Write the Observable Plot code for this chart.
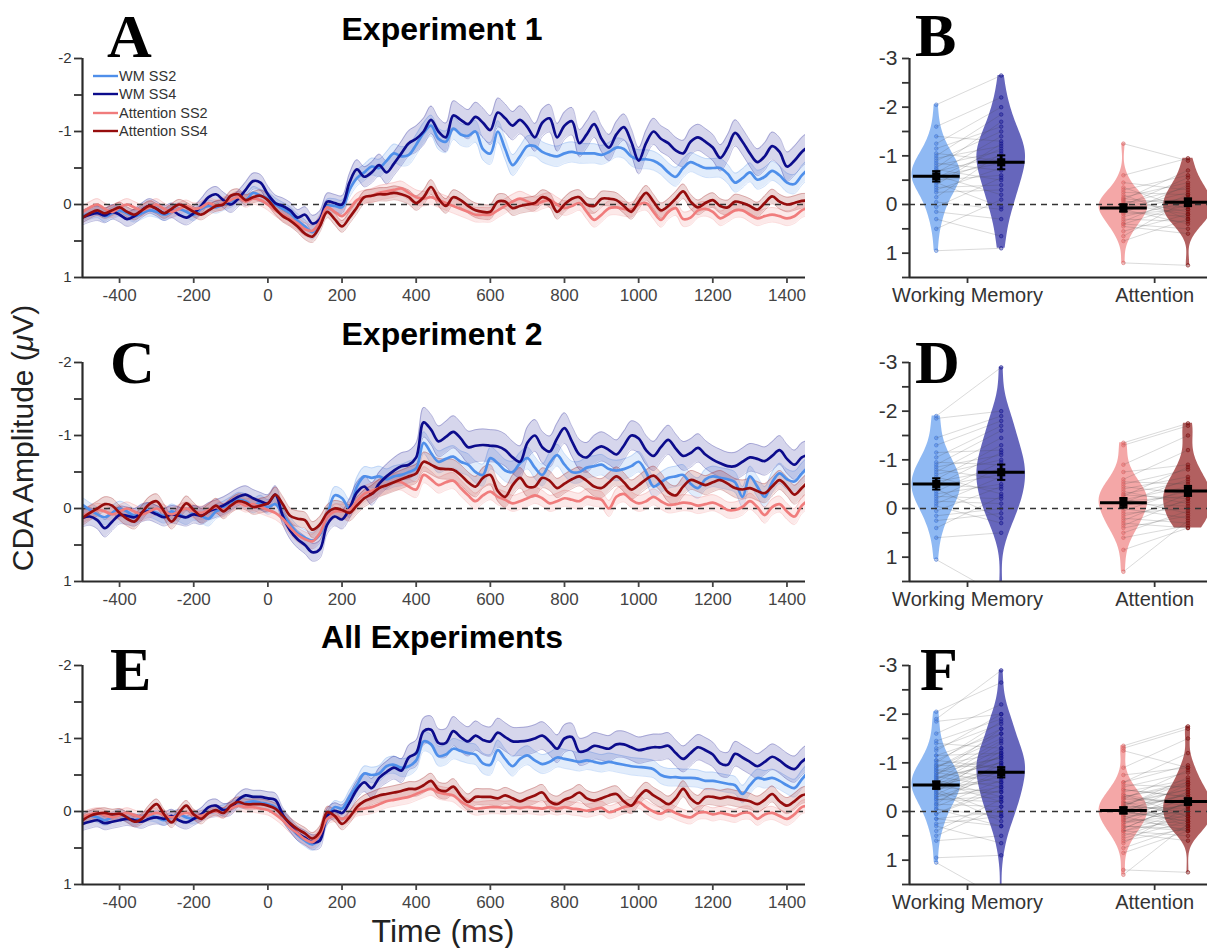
<!DOCTYPE html>
<html><head><meta charset="utf-8">
<script src="https://cdn.jsdelivr.net/npm/d3@7"></script>
<script src="https://cdn.jsdelivr.net/npm/@observablehq/plot@0.6"></script>
<style>
html,body{margin:0;padding:0;background:#fff;overflow:hidden}
#root{position:relative;width:1207px;height:948px;overflow:hidden;font-family:"Liberation Sans",Arial,Helvetica,sans-serif}
#root svg{position:absolute}
</style></head>
<body><div id="root"></div>
<script>
// ---------------- time grid (ms) ----------------
const times = d3.range(-500, 1461, 20);
const semKnots = d3.range(-500, 1501, 100);
const xTicks = [-400,-200,0,200,400,600,800,1000,1200,1400];
const yTicksLeft = [-2,-1.5,-1,-0.5,0,0.5,1];
const yTicksRight = [-3,-2.5,-2,-1.5,-1,-0.5,0,0.5,1,1.5];
const taskLabels = ["Working Memory","Attention"];
const taskTicks = [1,2];
const seriesNames = ["WM SS2","WM SS4","Attention SS2","Attention SS4"];
const panelTitles = ["Experiment 1","Experiment 2","All Experiments"];

// ---------------- Experiment 1 waveforms ----------------
const exp1_wm2 = [0.16,0.12,0.10,0.16,0.12,0.08,0.12,0.16,0.12,0.08,
0.10,0.14,0.10,0.06,0.10,0.14,0.06,0.02,0.04,0.00,
-0.04,-0.10,-0.06,-0.16,-0.12,-0.08,0.00,0.06,0.12,0.22,
0.30,0.38,0.24,0.02,0.02,0.04,-0.20,-0.36,-0.44,-0.52,
-0.50,-0.60,-0.70,-0.66,-0.68,-0.82,-0.98,-1.08,-0.90,-0.86,
-1.04,-0.96,-0.94,-1.00,-0.76,-0.70,-1.00,-0.76,-0.54,-0.66,
-0.80,-0.80,-0.72,-0.68,-0.66,-0.70,-0.72,-0.70,-0.70,-0.70,
-0.68,-0.72,-0.78,-0.76,-0.66,-0.62,-0.62,-0.60,-0.54,-0.44,
-0.38,-0.50,-0.58,-0.54,-0.50,-0.50,-0.50,-0.42,-0.30,-0.36,
-0.44,-0.34,-0.38,-0.46,-0.40,-0.30,-0.28,-0.40,-0.50];
const exp1_wm4 = [0.18,0.14,0.12,0.15,0.10,0.14,0.20,0.16,0.08,0.02,
0.06,0.12,0.08,0.14,0.18,0.12,0.02,-0.10,-0.14,-0.06,
0.00,-0.08,-0.20,-0.32,-0.30,-0.14,-0.02,0.02,0.08,0.18,
0.14,0.26,0.20,-0.04,-0.02,0.00,-0.30,-0.48,-0.38,-0.44,
-0.54,-0.44,-0.56,-0.70,-0.84,-0.90,-1.00,-1.16,-1.00,-0.92,
-1.22,-1.16,-1.10,-1.20,-1.12,-1.02,-1.26,-1.18,-1.08,-1.16,
-1.06,-0.92,-1.12,-1.18,-0.92,-1.08,-1.14,-0.84,-0.96,-1.10,
-0.90,-0.78,-0.96,-1.06,-0.86,-0.60,-0.84,-1.00,-0.90,-0.84,
-0.74,-0.70,-0.86,-0.92,-0.86,-0.78,-0.64,-0.78,-0.98,-0.86,
-0.70,-0.58,-0.66,-0.80,-0.72,-0.52,-0.60,-0.72,-0.80];
const exp1_att2 = [0.10,0.04,0.00,0.06,0.10,0.04,0.00,0.04,0.08,0.04,
0.00,0.06,0.10,0.06,0.02,0.06,0.04,-0.02,0.02,-0.02,
-0.06,-0.10,-0.04,-0.08,-0.06,0.00,0.08,0.14,0.20,0.26,
0.34,0.36,0.24,0.04,0.10,0.16,0.06,-0.06,-0.10,-0.12,
-0.16,-0.18,-0.20,-0.22,-0.16,-0.10,-0.08,-0.10,-0.06,-0.02,
0.02,0.06,0.10,0.14,0.14,0.14,0.08,0.02,-0.04,-0.08,
-0.04,0.00,-0.04,-0.06,0.00,0.05,0.02,-0.02,0.10,0.21,
0.14,0.05,0.04,0.06,0.07,0.00,-0.02,0.10,0.21,0.10,
0.05,0.20,0.18,0.08,0.06,0.10,0.19,0.14,0.08,0.08,
0.14,0.19,0.16,0.14,0.16,0.19,0.16,0.08,0.04];
const exp1_att4 = [0.18,0.12,0.08,0.12,0.08,0.04,0.10,0.14,0.08,0.02,
0.06,0.12,0.06,0.00,0.04,0.10,0.14,0.08,0.02,0.00,
-0.12,-0.14,-0.06,-0.10,-0.12,-0.06,0.06,0.16,0.22,0.30,
0.40,0.44,0.30,0.10,0.20,0.30,0.18,0.04,-0.10,-0.12,
-0.14,-0.14,-0.16,-0.14,-0.10,-0.02,-0.10,-0.24,-0.08,0.02,
-0.10,-0.06,0.02,0.08,0.10,0.10,-0.04,-0.04,0.05,0.02,
0.00,-0.02,-0.10,-0.06,0.10,0.00,-0.08,-0.10,0.00,0.02,
-0.08,-0.08,-0.06,0.02,0.10,-0.04,-0.16,-0.04,0.08,0.02,
-0.08,-0.18,-0.04,0.04,-0.02,-0.06,0.02,0.04,-0.04,-0.02,
0.02,0.07,-0.02,-0.11,-0.04,0.00,-0.02,-0.05,-0.05];
const exp1_wm2_sem = [0.08,0.08,0.08,0.08,0.08,0.09,0.09,0.10,0.12,0.14,0.15,0.15,0.14,0.14,0.13,0.13,0.13,0.13,0.13,0.13,0.14];
const exp1_wm4_sem = [0.10,0.10,0.10,0.10,0.11,0.11,0.11,0.12,0.15,0.18,0.20,0.20,0.19,0.19,0.18,0.18,0.18,0.18,0.18,0.20,0.20];
const exp1_att2_sem = [0.08,0.08,0.08,0.08,0.08,0.08,0.09,0.09,0.10,0.10,0.10,0.10,0.10,0.10,0.10,0.10,0.10,0.10,0.10,0.10,0.10];
const exp1_att4_sem = [0.07,0.07,0.07,0.07,0.07,0.08,0.08,0.08,0.09,0.10,0.10,0.10,0.10,0.10,0.10,0.10,0.10,0.10,0.10,0.10,0.10];

// ---------------- Experiment 2 waveforms ----------------
const exp2_wm2 = [-0.05,0.02,0.08,0.12,0.06,0.00,0.04,0.10,0.06,0.02,
0.06,0.10,0.04,0.08,0.12,0.06,0.10,0.14,0.04,0.00,
-0.06,-0.12,-0.10,-0.04,-0.08,-0.02,-0.06,0.08,0.22,0.34,
0.40,0.44,0.36,0.10,-0.18,-0.14,0.00,-0.30,-0.44,-0.42,
-0.44,-0.40,-0.44,-0.46,-0.50,-0.55,-0.90,-0.76,-0.64,-0.68,
-0.71,-0.64,-0.60,-0.50,-0.46,-0.69,-0.62,-0.52,-0.50,-0.62,
-0.69,-0.56,-0.46,-0.62,-0.73,-0.60,-0.50,-0.50,-0.56,-0.58,
-0.60,-0.54,-0.52,-0.54,-0.58,-0.64,-0.50,-0.30,-0.36,-0.42,
-0.44,-0.46,-0.34,-0.28,-0.40,-0.44,-0.42,-0.40,-0.36,-0.16,
-0.44,-0.30,-0.16,-0.36,-0.48,-0.40,-0.37,-0.48,-0.58];
const exp2_wm4 = [0.13,0.11,0.16,0.27,0.18,0.09,0.10,0.12,0.06,0.04,
0.08,0.12,0.08,0.10,0.12,0.08,0.10,0.04,0.00,-0.04,
-0.10,-0.16,-0.19,-0.14,-0.10,-0.07,-0.19,0.10,0.30,0.42,
0.50,0.60,0.56,0.22,0.11,0.15,0.00,-0.22,-0.30,-0.20,
-0.34,-0.44,-0.52,-0.58,-0.60,-0.70,-1.18,-1.08,-0.92,-0.98,
-1.05,-0.96,-0.84,-0.86,-0.87,-0.86,-0.85,-0.80,-0.70,-0.64,
-0.90,-1.00,-0.84,-0.78,-0.96,-1.10,-0.92,-0.74,-0.70,-0.80,
-0.85,-0.80,-0.74,-0.86,-1.00,-0.96,-0.80,-0.72,-0.84,-0.94,
-0.82,-0.72,-0.76,-0.83,-0.74,-0.67,-0.62,-0.58,-0.58,-0.64,
-0.70,-0.68,-0.65,-0.72,-0.80,-0.68,-0.60,-0.70,-0.74];
const exp2_att2 = [0.10,0.06,0.02,0.04,0.08,0.04,0.00,0.04,0.08,0.04,
0.00,0.04,0.08,0.04,0.00,0.04,0.06,0.02,-0.02,0.02,
-0.04,-0.08,-0.04,-0.06,-0.02,0.02,0.06,0.14,0.26,0.36,
0.42,0.45,0.34,0.12,0.04,0.04,0.02,-0.10,-0.20,-0.24,
-0.28,-0.32,-0.36,-0.36,-0.30,-0.26,-0.46,-0.40,-0.32,-0.36,
-0.38,-0.28,-0.18,-0.10,-0.18,-0.23,-0.16,-0.12,-0.07,-0.10,
-0.14,-0.18,-0.14,-0.07,-0.10,-0.14,-0.12,-0.10,-0.16,-0.14,
-0.12,0.00,-0.16,-0.20,-0.12,-0.07,-0.10,-0.16,-0.10,-0.05,
-0.06,-0.08,-0.07,-0.04,-0.06,-0.08,-0.04,0.02,0.02,-0.02,
-0.10,-0.02,0.09,-0.02,-0.06,0.04,0.11,-0.04,-0.12];
const exp2_att4 = [0.13,0.06,0.00,-0.06,-0.04,0.06,0.14,0.18,0.06,-0.06,
-0.10,0.04,0.18,0.06,-0.07,0.02,0.10,0.04,-0.04,0.04,
-0.04,-0.10,-0.08,-0.02,-0.04,-0.07,-0.19,-0.06,0.10,0.14,
0.16,0.29,0.22,0.06,0.00,0.02,0.06,-0.04,-0.14,-0.20,
-0.28,-0.32,-0.36,-0.40,-0.44,-0.48,-0.64,-0.60,-0.55,-0.54,
-0.53,-0.46,-0.36,-0.30,-0.42,-0.46,-0.24,-0.16,-0.32,-0.42,
-0.30,-0.30,-0.42,-0.38,-0.28,-0.34,-0.40,-0.44,-0.38,-0.30,
-0.28,-0.36,-0.44,-0.36,-0.26,-0.32,-0.40,-0.45,-0.36,-0.22,
-0.18,-0.30,-0.39,-0.36,-0.32,-0.36,-0.39,-0.34,-0.28,-0.26,
-0.28,-0.24,-0.21,-0.30,-0.39,-0.30,-0.19,-0.28,-0.38];
const exp2_wm2_sem = [0.10,0.10,0.10,0.10,0.10,0.10,0.11,0.12,0.14,0.15,0.15,0.15,0.15,0.15,0.14,0.14,0.14,0.14,0.14,0.14,0.15];
const exp2_wm4_sem = [0.12,0.12,0.12,0.12,0.12,0.12,0.12,0.13,0.16,0.20,0.22,0.22,0.22,0.21,0.20,0.20,0.20,0.19,0.19,0.20,0.20];
const exp2_att2_sem = [0.09,0.09,0.09,0.09,0.09,0.09,0.10,0.10,0.11,0.11,0.11,0.11,0.11,0.11,0.11,0.11,0.11,0.11,0.11,0.11,0.11];
const exp2_att4_sem = [0.10,0.10,0.10,0.10,0.10,0.10,0.11,0.11,0.12,0.13,0.14,0.14,0.14,0.13,0.13,0.13,0.13,0.13,0.13,0.13,0.13];

// ---------------- All experiments waveforms ----------------
const all_wm2 = [0.10,0.06,0.08,0.12,0.08,0.04,0.08,0.12,0.08,0.06,
0.08,0.12,0.08,0.04,0.08,0.10,0.06,0.02,0.00,-0.02,
-0.06,-0.10,-0.12,-0.14,-0.12,-0.10,-0.06,0.06,0.20,0.32,
0.40,0.45,0.36,0.10,-0.06,-0.04,-0.20,-0.36,-0.52,-0.50,
-0.52,-0.62,-0.64,-0.60,-0.62,-0.70,-0.96,-0.92,-0.76,-0.78,
-0.86,-0.83,-0.80,-0.78,-0.66,-0.64,-0.84,-0.72,-0.62,-0.72,
-0.77,-0.70,-0.65,-0.68,-0.74,-0.72,-0.70,-0.68,-0.70,-0.68,
-0.66,-0.68,-0.66,-0.64,-0.62,-0.61,-0.60,-0.58,-0.50,-0.47,
-0.47,-0.46,-0.46,-0.45,-0.42,-0.42,-0.40,-0.38,-0.36,-0.24,
-0.36,-0.46,-0.44,-0.46,-0.42,-0.36,-0.32,-0.44,-0.56];
const all_wm4 = [0.17,0.14,0.12,0.16,0.14,0.12,0.10,0.12,0.14,0.10,
0.08,0.10,0.06,0.12,0.15,0.10,0.04,-0.06,-0.08,-0.02,
-0.04,-0.16,-0.22,-0.20,-0.20,-0.18,-0.16,0.04,0.18,0.30,
0.36,0.42,0.40,0.06,-0.01,0.02,-0.12,-0.30,-0.40,-0.32,
-0.46,-0.54,-0.60,-0.56,-0.74,-0.80,-1.10,-1.12,-0.94,-0.94,
-1.10,-1.02,-0.96,-1.04,-0.98,-0.96,-1.08,-1.02,-0.96,-0.96,
-0.97,-1.00,-1.04,-0.96,-0.86,-1.00,-1.02,-0.82,-0.84,-0.90,
-0.88,-0.86,-0.92,-0.92,-0.88,-0.84,-0.86,-0.88,-0.88,-0.90,
-0.80,-0.72,-0.80,-0.88,-0.84,-0.78,-0.66,-0.64,-0.79,-0.74,
-0.68,-0.62,-0.68,-0.75,-0.70,-0.62,-0.58,-0.68,-0.76];
const all_att2 = [0.08,0.04,0.02,0.05,0.08,0.05,0.02,0.05,0.08,0.05,
0.02,0.05,0.08,0.05,0.02,0.05,0.06,0.02,0.00,0.02,
-0.04,-0.08,-0.06,-0.06,-0.04,-0.02,0.04,0.12,0.22,0.30,
0.38,0.42,0.32,0.10,0.06,0.10,0.06,-0.02,-0.04,-0.06,
-0.10,-0.14,-0.16,-0.18,-0.20,-0.24,-0.28,-0.31,-0.26,-0.24,
-0.22,-0.14,-0.08,-0.04,-0.05,-0.06,-0.06,-0.05,-0.06,-0.05,
-0.06,-0.05,-0.04,-0.06,-0.04,-0.06,-0.04,-0.03,-0.01,-0.03,
-0.05,0.01,-0.02,-0.06,-0.08,-0.13,-0.06,0.00,0.03,-0.02,
0.02,0.06,0.08,0.02,0.01,0.04,0.02,0.04,0.06,0.02,
0.02,0.10,0.04,0.02,0.06,0.10,0.04,-0.06,-0.08];
const all_att4 = [0.12,0.06,0.03,0.02,0.04,0.03,0.08,0.14,0.10,-0.02,
-0.10,0.04,0.15,0.02,-0.08,0.04,0.10,0.02,-0.02,0.02,
-0.08,-0.13,-0.10,-0.10,-0.10,-0.08,-0.04,0.06,0.16,0.24,
0.30,0.37,0.28,0.01,0.06,0.17,0.08,-0.06,-0.14,-0.18,
-0.22,-0.24,-0.26,-0.28,-0.31,-0.31,-0.36,-0.42,-0.30,-0.28,
-0.34,-0.22,-0.13,-0.20,-0.20,-0.20,-0.18,-0.22,-0.18,-0.14,
-0.18,-0.22,-0.26,-0.14,-0.10,-0.16,-0.20,-0.26,-0.18,-0.15,
-0.18,-0.22,-0.24,-0.14,-0.08,-0.20,-0.29,-0.22,-0.16,-0.10,
-0.18,-0.31,-0.18,-0.11,-0.20,-0.20,-0.18,-0.20,-0.18,-0.16,
-0.14,-0.10,-0.16,-0.24,-0.14,-0.08,-0.14,-0.22,-0.24];
const all_wm2_sem = [0.07,0.07,0.07,0.07,0.07,0.08,0.08,0.09,0.11,0.13,0.14,0.14,0.13,0.13,0.12,0.12,0.12,0.12,0.12,0.12,0.13];
const all_wm4_sem = [0.09,0.09,0.09,0.09,0.09,0.09,0.10,0.11,0.14,0.18,0.20,0.20,0.19,0.19,0.18,0.18,0.18,0.17,0.17,0.18,0.18];
const all_att2_sem = [0.07,0.07,0.07,0.07,0.07,0.07,0.08,0.08,0.09,0.09,0.09,0.09,0.09,0.09,0.09,0.09,0.09,0.09,0.09,0.09,0.09];
const all_att4_sem = [0.07,0.07,0.07,0.07,0.07,0.07,0.08,0.08,0.09,0.10,0.11,0.11,0.11,0.11,0.11,0.11,0.11,0.11,0.11,0.11,0.11];

// ---------------- per-subject mean amplitudes ----------------
const s1_wm2 = [-2.05,-1.6,-1.4,-1.25,-1.15,-1.05,-1.0,-0.95,-0.9,-0.85,-0.8,-0.75,-0.72,-0.68,-0.65,-0.6,-0.58,-0.55,-0.5,-0.48,-0.45,-0.4,-0.35,-0.3,-0.25,-0.15,-0.05,0.05,0.15,0.3,0.5,0.95];
const s1_wm4 = [-2.65,-2.2,-1.3,-2.0,-1.6,-0.9,-1.85,-1.2,-1.5,-0.7,-1.1,-1.7,-0.5,-1.0,-1.4,-0.2,-0.85,-1.15,-0.6,-0.95,0.05,-1.25,-0.4,-0.75,-0.3,-1.05,0.1,-0.55,0.3,0.65,-0.1,0.9];
const s1_att2 = [-1.25,-0.6,-0.45,-0.35,-0.3,-0.25,-0.2,-0.15,-0.12,-0.1,-0.08,-0.05,-0.02,0.0,0.02,0.05,0.08,0.1,0.12,0.15,0.18,0.2,0.25,0.3,0.35,0.4,0.4,0.45,0.55,0.65,0.75,1.2];
const s1_att4 = [-0.9,-0.95,-0.3,0.1,-0.6,-0.2,0.3,-0.45,0.0,-0.7,0.15,-0.1,-0.35,0.2,-0.55,0.05,-0.25,0.4,-0.15,0.25,-0.4,0.1,-0.05,0.35,-0.2,0.5,0.0,0.6,0.2,-0.1,0.3,1.25];
const s2_wm2 = [-1.9,-1.85,-1.45,-1.3,-1.15,-1.05,-0.95,-0.9,-0.85,-0.8,-0.75,-0.7,-0.65,-0.6,-0.55,-0.5,-0.48,-0.45,-0.4,-0.35,-0.3,-0.25,-0.2,-0.15,-0.1,-0.05,0.05,0.15,0.25,0.4,0.6,1.05];
const s2_wm4 = [-2.9,-2.0,-1.9,-1.8,-1.2,-1.7,-0.9,-1.6,-1.1,-0.6,-1.45,-1.0,-0.3,-1.3,-0.8,-0.4,-1.15,-0.7,0.2,-0.95,-0.5,-0.2,-0.85,-0.1,-0.65,0.3,-0.45,0.0,0.1,-0.25,0.5,1.8];
const s2_att2 = [-1.35,-1.3,-0.9,-0.75,-0.6,-0.55,-0.5,-0.45,-0.4,-0.35,-0.3,-0.28,-0.25,-0.2,-0.18,-0.15,-0.12,-0.1,-0.05,0.0,0.05,0.1,0.15,0.2,0.25,0.3,0.35,0.4,0.5,0.6,0.85,1.3];
const s2_att4 = [-1.75,-1.7,-1.5,-0.9,-1.2,-0.5,-0.8,-0.3,-0.65,-0.1,-0.55,-0.2,-0.85,0.1,-0.45,-0.25,-0.6,-0.05,-0.35,0.2,-0.4,0.0,-0.15,0.3,-0.3,0.4,-0.2,0.15,0.05,0.35,0.4,0.25];

// ---------------- styling ----------------
const keys = ["wm2","wm4","att2","att4"];
const lineColor = {wm2:"#4f8fea", wm4:"#0c0c8c", att2:"#f07c7c", att4:"#960d0d"};
const violinFill = {wm2:"#5a98ee", wm4:"#1d1d9c", att2:"#ef7d7d", att4:"#8e1414"};
const dotColor = {wm2:"#3f74d6", wm4:"#12128e", att2:"#dc6262", att4:"#7a0a0a"};
const violinPos = {wm2:1-0.167, wm4:1+0.18, att2:2-0.167, att4:2+0.178};
const FONT = "'Liberation Sans', Arial, Helvetica, sans-serif";
const intFmt = d => Number.isInteger(d) ? String(d) : "";

const root = document.getElementById("root");
function place(svg, left, top){ svg.style.left = left+"px"; svg.style.top = top+"px"; root.appendChild(svg); }

function leftPanel(mean, sem, top){
  const marks = [];
  const rowsBy = {};
  for (const k of keys){
    const s = d3.scaleLinear().domain(semKnots).range(sem[k]);
    rowsBy[k] = times.map((t,i)=>({t, v:mean[k][i], lo:mean[k][i]-s(t), hi:mean[k][i]+s(t)}));
  }
  for (const k of keys){
    const d = rowsBy[k];
    marks.push(Plot.areaY(d,{x:"t",y1:"lo",y2:"hi",fill:lineColor[k],fillOpacity:0.17,curve:"catmull-rom",clip:true}));
    marks.push(Plot.line(d,{x:"t",y:"lo",stroke:lineColor[k],strokeOpacity:0.25,strokeWidth:1,curve:"catmull-rom",clip:true}));
    marks.push(Plot.line(d,{x:"t",y:"hi",stroke:lineColor[k],strokeOpacity:0.25,strokeWidth:1,curve:"catmull-rom",clip:true}));
  }
  marks.push(Plot.ruleY([0],{stroke:"#333",strokeDasharray:"6,5",strokeWidth:1.4}));
  for (const k of keys){
    marks.push(Plot.line(rowsBy[k],{x:"t",y:"v",stroke:lineColor[k],strokeWidth:2.7,curve:"catmull-rom",clip:true}));
  }
  marks.push(Plot.ruleX([-500],{stroke:"#2a2a2a",strokeWidth:2.2}));
  marks.push(Plot.ruleY([1],{stroke:"#2a2a2a",strokeWidth:2.2}));
  marks.push(Plot.axisY({ticks:yTicksLeft,tickFormat:intFmt,tickSize:8,tickPadding:3,fontSize:15,label:null,color:"#333",strokeWidth:1.8}));
  marks.push(Plot.axisX({ticks:xTicks,tickFormat:d=>String(d),tickSize:6,tickPadding:5,fontSize:17,label:null,color:"#444",strokeWidth:1.8}));
  const svg = Plot.plot({
    width:820, height:264, marginTop:10, marginBottom:35, marginLeft:82, marginRight:15,
    x:{domain:[-500,1450]}, y:{domain:[1,-2]},
    style:{fontFamily:FONT, background:"none", overflow:"visible"},
    marks
  });
  place(svg, 0, top);
}

function violinPts(vals, pos){
  const n = vals.length, sd = d3.deviation(vals), bw = 0.9*sd*Math.pow(n,-0.2);
  const lo = d3.min(vals), hi = d3.max(vals);
  const pts = d3.range(81).map(i=>{const y = lo+(hi-lo)*i/80; return {y, d:d3.sum(vals,v=>Math.exp(-0.5*((y-v)/bw)**2))};});
  const mx = d3.max(pts,p=>p.d);
  return pts.map(p=>({y:p.y, x1:pos-p.d/mx*0.13, x2:pos+p.d/mx*0.13}));
}

function rightPanel(subj, top){
  const marks = [];
  for (const k of keys){
    marks.push(Plot.areaX(violinPts(subj[k], violinPos[k]),{y:"y",x1:"x1",x2:"x2",fill:violinFill[k],fillOpacity:0.68,clip:true}));
  }
  for (const k of keys){
    marks.push(Plot.dot(subj[k],{x:()=>violinPos[k],y:d=>d,r:1.8,fill:dotColor[k],fillOpacity:0.35,stroke:dotColor[k],strokeOpacity:0.8,strokeWidth:0.7,clip:true}));
  }
  const pairs = [["wm2","wm4"],["att2","att4"]];
  for (const [a,b] of pairs){
    const links = subj[a].map((v,i)=>({v1:v, v2:subj[b][i]}));
    marks.push(Plot.link(links,{x1:()=>violinPos[a],x2:()=>violinPos[b],y1:"v1",y2:"v2",stroke:"#444",strokeOpacity:0.2,strokeWidth:1,clip:true}));
  }
  marks.push(Plot.ruleY([0],{stroke:"#333",strokeDasharray:"6,5",strokeWidth:1.4}));
  const stats = keys.map(k=>{const m=d3.mean(subj[k]); const se=d3.deviation(subj[k])/Math.sqrt(subj[k].length); return {k, x:violinPos[k], m, lo:m-se, hi:m+se};});
  marks.push(Plot.link(stats,{x1:d=>d.x-0.125,x2:d=>d.x+0.125,y1:"m",y2:"m",stroke:"#000",strokeWidth:3}));
  marks.push(Plot.link(stats,{x1:"x",x2:"x",y1:"lo",y2:"hi",stroke:"#000",strokeWidth:2.5}));
  marks.push(Plot.link(stats,{x1:d=>d.x-0.022,x2:d=>d.x+0.022,y1:"lo",y2:"lo",stroke:"#000",strokeWidth:2}));
  marks.push(Plot.link(stats,{x1:d=>d.x-0.022,x2:d=>d.x+0.022,y1:"hi",y2:"hi",stroke:"#000",strokeWidth:2}));
  marks.push(Plot.dot(stats,{x:"x",y:"m",symbol:"square",r:4.6,fill:"#000"}));
  marks.push(Plot.ruleX([0.69],{stroke:"#2a2a2a",strokeWidth:2.2}));
  marks.push(Plot.ruleY([1.5],{stroke:"#2a2a2a",strokeWidth:2.2}));
  marks.push(Plot.axisY({ticks:yTicksRight,tickFormat:intFmt,tickSize:7,tickPadding:5,fontSize:21,label:null,color:"#333",strokeWidth:1.8}));
  marks.push(Plot.axisX({ticks:taskTicks,tickFormat:d=>taskLabels[d-1],tickSize:6,tickPadding:4,fontSize:20,label:null,color:"#333",strokeWidth:1.8}));
  const svg = Plot.plot({
    width:369, height:264, marginTop:10, marginBottom:35, marginLeft:49, marginRight:0,
    x:{domain:[0.69,2.4]}, y:{domain:[1.5,-3]},
    style:{fontFamily:FONT, background:"none", overflow:"visible"},
    marks
  });
  place(svg, 860, top);
}

const panelTops = [48, 352, 655];
leftPanel({wm2:exp1_wm2,wm4:exp1_wm4,att2:exp1_att2,att4:exp1_att4},{wm2:exp1_wm2_sem,wm4:exp1_wm4_sem,att2:exp1_att2_sem,att4:exp1_att4_sem}, panelTops[0]);
leftPanel({wm2:exp2_wm2,wm4:exp2_wm4,att2:exp2_att2,att4:exp2_att4},{wm2:exp2_wm2_sem,wm4:exp2_wm4_sem,att2:exp2_att2_sem,att4:exp2_att4_sem}, panelTops[1]);
leftPanel({wm2:all_wm2,wm4:all_wm4,att2:all_att2,att4:all_att4},{wm2:all_wm2_sem,wm4:all_wm4_sem,att2:all_att2_sem,att4:all_att4_sem}, panelTops[2]);
rightPanel({wm2:s1_wm2,wm4:s1_wm4,att2:s1_att2,att4:s1_att4}, panelTops[0]);
rightPanel({wm2:s2_wm2,wm4:s2_wm4,att2:s2_att2,att4:s2_att4}, panelTops[1]);
rightPanel({wm2:s1_wm2.concat(s2_wm2),wm4:s1_wm4.concat(s2_wm4),att2:s1_att2.concat(s2_att2),att4:s1_att4.concat(s2_att4)}, panelTops[2]);

// ---------------- overlay text: titles, panel letters, axis titles, legend ----------------
const ov = d3.select(root).append("svg").attr("width",1207).attr("height",948)
  .style("left","0px").style("top","0px").style("pointer-events","none").style("font-family",FONT);
const titleY = [40, 345, 648];
panelTitles.forEach((t,i)=>ov.append("text").attr("x",442).attr("y",titleY[i]).attr("text-anchor","middle")
  .attr("font-size",32).attr("font-weight","bold").attr("fill","#000").text(t));
const letters = [["A",107,57],["B",915,56],["C",110,383],["D",915,383],["E",110,690],["F",920,690]];
letters.forEach(([l,x,y])=>ov.append("text").attr("x",x).attr("y",y).attr("font-family","'Liberation Serif','DejaVu Serif',serif")
  .attr("font-weight","bold").attr("font-size",62).attr("fill","#000").text(l));
const yl = ov.append("text").attr("transform","translate(33,438) rotate(-90)").attr("text-anchor","middle")
  .attr("font-size",30).attr("fill","#222");
yl.append("tspan").text("CDA Amplitude (");
yl.append("tspan").attr("font-style","italic").text("\u03bc");
yl.append("tspan").text("V)");
ov.append("text").attr("x",443).attr("y",942).attr("text-anchor","middle").attr("font-size",32).attr("fill","#222").text("Time (ms)");
const legY = [76, 94, 113, 131];
keys.forEach((k,i)=>{
  ov.append("line").attr("x1",93).attr("x2",118).attr("y1",legY[i]).attr("y2",legY[i]).attr("stroke",lineColor[k]).attr("stroke-width",2.4);
  ov.append("text").attr("x",119).attr("y",legY[i]).attr("dy","0.35em").attr("font-size",14.5).attr("fill","#333").text(seriesNames[i]);
});
</script>
</body></html>
